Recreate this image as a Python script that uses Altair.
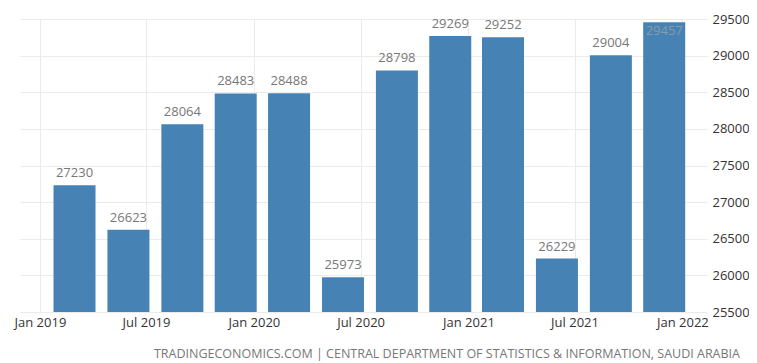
import altair as alt
import pandas as pd

# Data
dates = ["2019-03-01", "2019-06-01", "2019-09-01", "2019-12-01",
         "2020-03-01", "2020-06-01", "2020-09-01", "2020-12-01",
         "2021-03-01", "2021-06-01", "2021-09-01", "2021-12-01"]
values = [27230, 26623, 28064, 28483, 28488, 25973, 28798, 29269,
          29252, 26229, 29004, 29457]
x_tick_dates = [(2019, 1), (2019, 7), (2020, 1), (2020, 7),
                (2021, 1), (2021, 7), (2022, 1)]
y_ticks = [25500, 26000, 26500, 27000, 27500, 28000, 28500, 29000, 29500]
y_base = 25500
footer = "TRADINGECONOMICS.COM | CENTRAL DEPARTMENT OF STATISTICS & INFORMATION, SAUDI ARABIA"

df = pd.DataFrame({"date": dates, "value": values})

FONT = "Open Sans"
BAR = "#4682b4"
GRID = "#ebebeb"

x_enc = alt.X(
    "date:T",
    scale=alt.Scale(
        type="utc", nice=False, padding=0,
        domain=[alt.DateTime(year=2018, month=11, date=28, utc=True),
                alt.DateTime(year=2022, month=2, date=12, utc=True)],
    ),
    axis=alt.Axis(
        title=None,
        values=[alt.DateTime(year=y, month=m, date=1, utc=True) for y, m in x_tick_dates],
        format="%b %Y",
        labelFont=FONT, labelFontSize=13, labelColor="#333",
        labelPadding=4, ticks=False, domain=False,
        grid=True, gridColor=GRID, labelFlush=False, labelOverlap=False,
    ),
)
y_enc = alt.Y(
    "value:Q",
    scale=alt.Scale(domain=[25500, 29500], zero=False, nice=False, padding=0),
    axis=alt.Axis(
        title=None, orient="right", values=y_ticks, format="d",
        labelFont=FONT, labelFontSize=13, labelColor="#333",
        labelPadding=5, ticks=False, domain=False, labelOverlap=False,
        labelFlush=False, grid=True, gridColor=GRID,
    ),
)

base = alt.Chart(df)
bars = base.mark_bar(color=BAR, size=42).encode(
    x=x_enc, y=y_enc, y2=alt.datum(y_base)
)
labels_out = base.transform_filter("datum.value < 29400").mark_text(
    baseline="bottom", dy=-5, font=FONT, fontSize=13, color="#777"
).encode(x=x_enc, y=y_enc, text=alt.Text("value:Q", format="d"))
labels_in = base.transform_filter("datum.value >= 29400").mark_text(
    baseline="top", dy=3, font=FONT, fontSize=13, color="#8c9aa8"
).encode(x=x_enc, y=y_enc, text=alt.Text("value:Q", format="d"))

chart = alt.layer(bars, labels_out, labels_in).properties(
    width=687, height=293,
    autosize=alt.AutoSizeParams(type="none"),
    padding={"left": 12, "top": 11, "right": 42, "bottom": 50},
    title=alt.TitleParams(
        footer, orient="bottom", anchor="end", frame="group", dx=33, offset=19,
        font=FONT, fontSize=12.5, fontWeight="normal", color="#777",
        baseline="top",
    ),
).configure_view(stroke=None)

chart.save("out.html", embed_options={"renderer": "svg", "actions": False})
